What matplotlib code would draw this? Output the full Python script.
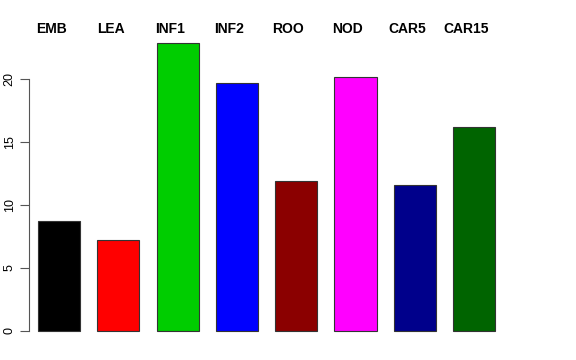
import matplotlib
matplotlib.use("Agg")
import matplotlib.pyplot as plt
import matplotlib.transforms as mtransforms

categories = ["EMB", "LEA", "INF1", "INF2", "ROO", "NOD", "CAR5", "CAR15"]
values = [8.73, 7.22, 22.86, 19.68, 11.9, 20.16, 11.59, 16.19]
colors = ["#000000", "#FF0000", "#00CD00", "#0000FF", "#8B0000", "#FF00FF", "#00008B", "#006400"]
yticks = [0, 5, 10, 15, 20]

plt.rcParams['font.family'] = ['Liberation Sans', 'DejaVu Sans']

W, H = 576, 360
fig = plt.figure(figsize=(W / 100, H / 100), dpi=100)
# plot region in pixels: left 29, top 31.5, bottom 342.5, right 547
ax = fig.add_axes([29 / W, 1 - 342.5 / H, (547 - 29) / W, (342.5 - 31.5) / H])

x = list(range(len(categories)))
ax.bar(x, values, width=0.71, color=colors, edgecolor="#333333", linewidth=0.8)

px = 59.3  # pixels per category
ax.set_xlim(-30 / px, -30 / px + (547 - 29) / px)
ax.set_ylim(-0.914, 23.77)

for s in ["top", "right", "bottom"]:
    ax.spines[s].set_visible(False)
ax.spines["left"].set_bounds(0, 20)
ax.spines["left"].set_color("#555555")
ax.set_xticks([])
ax.set_yticks(yticks)
ax.set_yticklabels([str(t) for t in yticks], rotation=90, va="center", fontsize=9)
ax.tick_params(axis="y", length=6.5, color="#555555", pad=3)

trans = mtransforms.blended_transform_factory(ax.transData, fig.transFigure)
for xi, lab in zip(x, categories):
    ax.text(xi - 0.13, 1 - 29 / H, lab, transform=trans, ha="center", va="center",
            fontsize=10, fontweight="bold", clip_on=False)

fig.savefig("out.png", dpi=100)
